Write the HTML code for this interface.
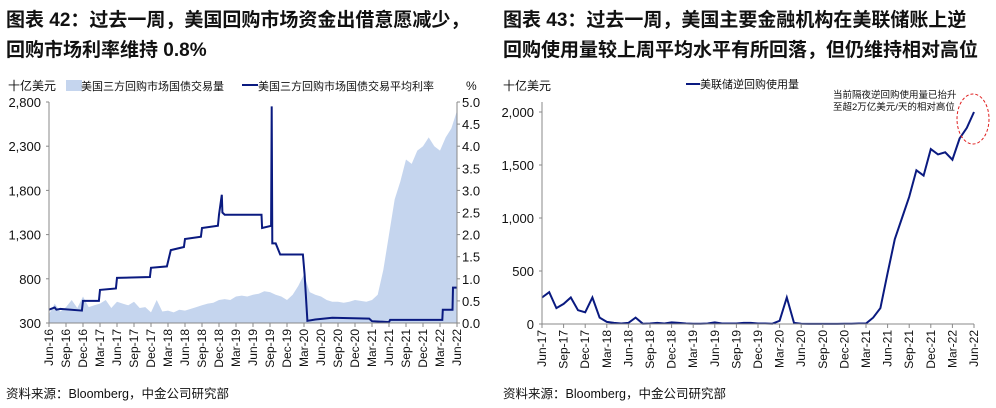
<!DOCTYPE html>
<html><head><meta charset="utf-8">
<style>
body{margin:0;width:996px;height:408px;background:#fff;overflow:hidden;font-family:"Liberation Sans","Noto Sans CJK SC",sans-serif;}
.t{position:absolute;font-weight:bold;font-size:19px;color:#111;line-height:30px;white-space:nowrap;}
.src{position:absolute;font-size:12.5px;color:#111;top:383px;}
svg{position:absolute;top:0;left:0}
text{font-family:"Liberation Sans","Noto Sans CJK SC",sans-serif;fill:#111}
</style></head><body>
<div class="t" style="left:6px;top:6px">图表 42：过去一周，美国回购市场资金出借意愿减少，<br>回购市场利率维持 0.8%</div>
<div class="t" style="left:503px;top:6px">图表 43：过去一周，美国主要金融机构在美联储账上逆<br>回购使用量较上周平均水平有所回落，但仍维持相对高位</div>
<div class="src" style="left:6px">资料来源：Bloomberg，中金公司研究部</div>
<div class="src" style="left:503px">资料来源：Bloomberg，中金公司研究部</div>
<svg id="s" width="996" height="408"></svg>
<script>
// ---- left chart data (monthly from Jun-16) ----
const leftTicks=["Jun-16","Sep-16","Dec-16","Mar-17","Jun-17","Sep-17","Dec-17","Mar-18","Jun-18","Sep-18","Dec-18","Mar-19","Jun-19","Sep-19","Dec-19","Mar-20","Jun-20","Sep-20","Dec-20","Mar-21","Jun-21","Sep-21","Dec-21","Mar-22","Jun-22"];
const volume=[400,520,430,480,560,470,600,480,500,520,560,470,540,520,500,540,470,480,420,560,430,440,420,450,440,460,480,500,520,530,560,570,560,600,610,600,620,630,660,650,620,600,560,620,720,850,650,620,600,560,540,540,530,540,560,550,540,560,620,900,1300,1700,1900,2150,2100,2250,2300,2400,2300,2250,2400,2500,2700];
const rateMonths=[0,1,1.3,2,5.8,6,8.8,9,11.8,12,17.8,18,20.8,21.5,23.8,24,26.8,27,29.8,30,30.5,30.6,31,37.5,37.6,39.2,39.3,39.4,40,40.8,41,44.8,45.1,45.6,47,50,56.5,57,60,60.2,69.4,69.5,71.2,71.3,72];
const rateVals=[0.3,0.35,0.3,0.32,0.28,0.5,0.5,0.75,0.78,1.02,1.04,1.25,1.28,1.65,1.72,1.9,1.95,2.15,2.2,2.45,2.9,2.5,2.45,2.45,2.15,2.2,4.9,1.8,1.8,1.55,1.55,1.55,1.1,0.05,0.08,0.12,0.1,0.04,0.02,0.07,0.07,0.3,0.3,0.8,0.8];
// ---- right chart data (monthly from Jun-17) ----
const rightTicks=["Jun-17","Sep-17","Dec-17","Mar-18","Jun-18","Sep-18","Dec-18","Mar-19","Jun-19","Sep-19","Dec-19","Mar-20","Jun-20","Sep-20","Dec-20","Mar-21","Jun-21","Sep-21","Dec-21","Mar-22","Jun-22"];
const rrp=[250,300,150,190,250,130,110,250,60,20,10,5,10,60,3,5,10,5,15,10,5,3,3,5,15,5,5,5,10,10,5,5,3,30,250,10,2,1,1,1,1,1,2,3,5,5,60,150,480,800,1000,1200,1450,1400,1650,1600,1620,1550,1750,1850,2000];
const leftY=[300,800,1300,1800,2300,2800];
const leftY2=[0,0.5,1,1.5,2,2.5,3,3.5,4,4.5,5];
const rightY=[0,500,1000,1500,2000];

const NS="http://www.w3.org/2000/svg",S=document.getElementById('s');
function mk(t,a,p){const e=document.createElementNS(NS,t);for(const k in a)e.setAttribute(k,a[k]);(p||S).appendChild(e);return e;}
function fmt(v){return v.toLocaleString('en-US');}

// Left axes
const L={x0:49,x1:457,y0:323,y1:102};
const lx=m=>L.x0+(L.x1-L.x0)*m/72;
const ly=v=>L.y0-(L.y0-L.y1)*(v-300)/2500;
const ly2=v=>L.y0-(L.y0-L.y1)*v/5;
// volume area
let d=`M${lx(0)},${L.y0}`;volume.forEach((v,i)=>d+=`L${lx(i).toFixed(1)},${ly(v).toFixed(1)}`);d+=`L${lx(72)},${L.y0}Z`;
const area=mk('path',{d,fill:'#c5d5ee'});


// rate line
let d2='';rateMonths.forEach((m,i)=>d2+=(i?'L':'M')+lx(m).toFixed(1)+','+ly2(rateVals[i]).toFixed(1));
const rl=mk('path',{d:d2,fill:'none',stroke:'#0a1a80','stroke-width':2});


mk('line',{x1:L.x0,y1:L.y1,x2:L.x0,y2:L.y0,stroke:'#888'});
mk('line',{x1:L.x1,y1:L.y1,x2:L.x1,y2:L.y0,stroke:'#888'});
mk('line',{x1:L.x0,y1:L.y0,x2:L.x1,y2:L.y0,stroke:'#888'});
leftY.forEach(v=>{const t=mk('text',{x:L.x0-8,y:ly(v)+5,'text-anchor':'end','font-size':13});t.textContent=fmt(v);


mk('line',{x1:L.x0-3,x2:L.x0,y1:ly(v),y2:ly(v),stroke:'#888'});});
leftY2.forEach(v=>{const t=mk('text',{x:L.x1+5,y:ly2(v)+5,'font-size':13});t.textContent=v.toFixed(1);


mk('line',{x1:L.x1,x2:L.x1+3,y1:ly2(v),y2:ly2(v),stroke:'#888'});});
leftTicks.forEach((s,i)=>{const x=lx(i*3);mk('line',{x1:x,x2:x,y1:L.y0,y2:L.y0+4,stroke:'#888'});
const t=mk('text',{x:0,y:0,'text-anchor':'end','font-size':12,transform:`translate(${x+4},${L.y0+6}) rotate(-90)`});t.textContent=s;

});
let t;
t=mk('text',{x:8,y:90,'font-size':12});t.textContent='十亿美元';
t=mk('text',{x:466,y:90,'font-size':12});t.textContent='%';
mk('rect',{x:66,y:80,width:16,height:11,fill:'#c5d5ee'});
t=mk('text',{x:81,y:90,'font-size':11});t.textContent='美国三方回购市场国债交易量';


mk('line',{x1:242,x2:258,y1:85,y2:85,stroke:'#0a1a80','stroke-width':2});
t=mk('text',{x:258,y:90,'font-size':11});t.textContent='美国三方回购市场国债交易平均利率';



// Right chart
const R={x0:542,x1:974,y0:324,y1:112};
const rx=m=>R.x0+(R.x1-R.x0)*m/60;
const ry=v=>R.y0-(R.y0-R.y1)*v/2000;
let d3='';rrp.forEach((v,i)=>d3+=(i?'L':'M')+rx(i).toFixed(1)+','+ry(v).toFixed(1));
const rr=mk('path',{d:d3,fill:'none',stroke:'#0a1a80','stroke-width':2});


mk('line',{x1:R.x0,y1:102,x2:R.x0,y2:R.y0,stroke:'#888'});
mk('line',{x1:R.x0,y1:R.y0,x2:R.x1,y2:R.y0,stroke:'#888'});
rightY.forEach(v=>{const t=mk('text',{x:R.x0-8,y:ry(v)+5,'text-anchor':'end','font-size':13});t.textContent=fmt(v);


mk('line',{x1:R.x0-3,x2:R.x0,y1:ry(v),y2:ry(v),stroke:'#888'});});
rightTicks.forEach((s,i)=>{const x=rx(i*3);mk('line',{x1:x,x2:x,y1:R.y0,y2:R.y0+4,stroke:'#888'});
const t=mk('text',{x:0,y:0,'text-anchor':'end','font-size':12,transform:`translate(${x+4},${R.y0+6}) rotate(-90)`});t.textContent=s;

});
t=mk('text',{x:503,y:90,'font-size':12});t.textContent='十亿美元';
mk('line',{x1:686,x2:700,y1:84,y2:84,stroke:'#0a1a80','stroke-width':2});
t=mk('text',{x:700,y:88,'font-size':11});t.textContent='美联储逆回购使用量';


t=mk('text',{x:833,y:98,'font-size':9.5});t.textContent='当前隔夜逆回购使用量已抬升';


t=mk('text',{x:833,y:110,'font-size':9.5});t.textContent='至超2万亿美元/天的相对高位';
const el=mk('ellipse',{cx:973,cy:119,rx:16,ry:25,fill:'none',stroke:'#e02020','stroke-dasharray':'3,2'});


</script>
</body></html>
